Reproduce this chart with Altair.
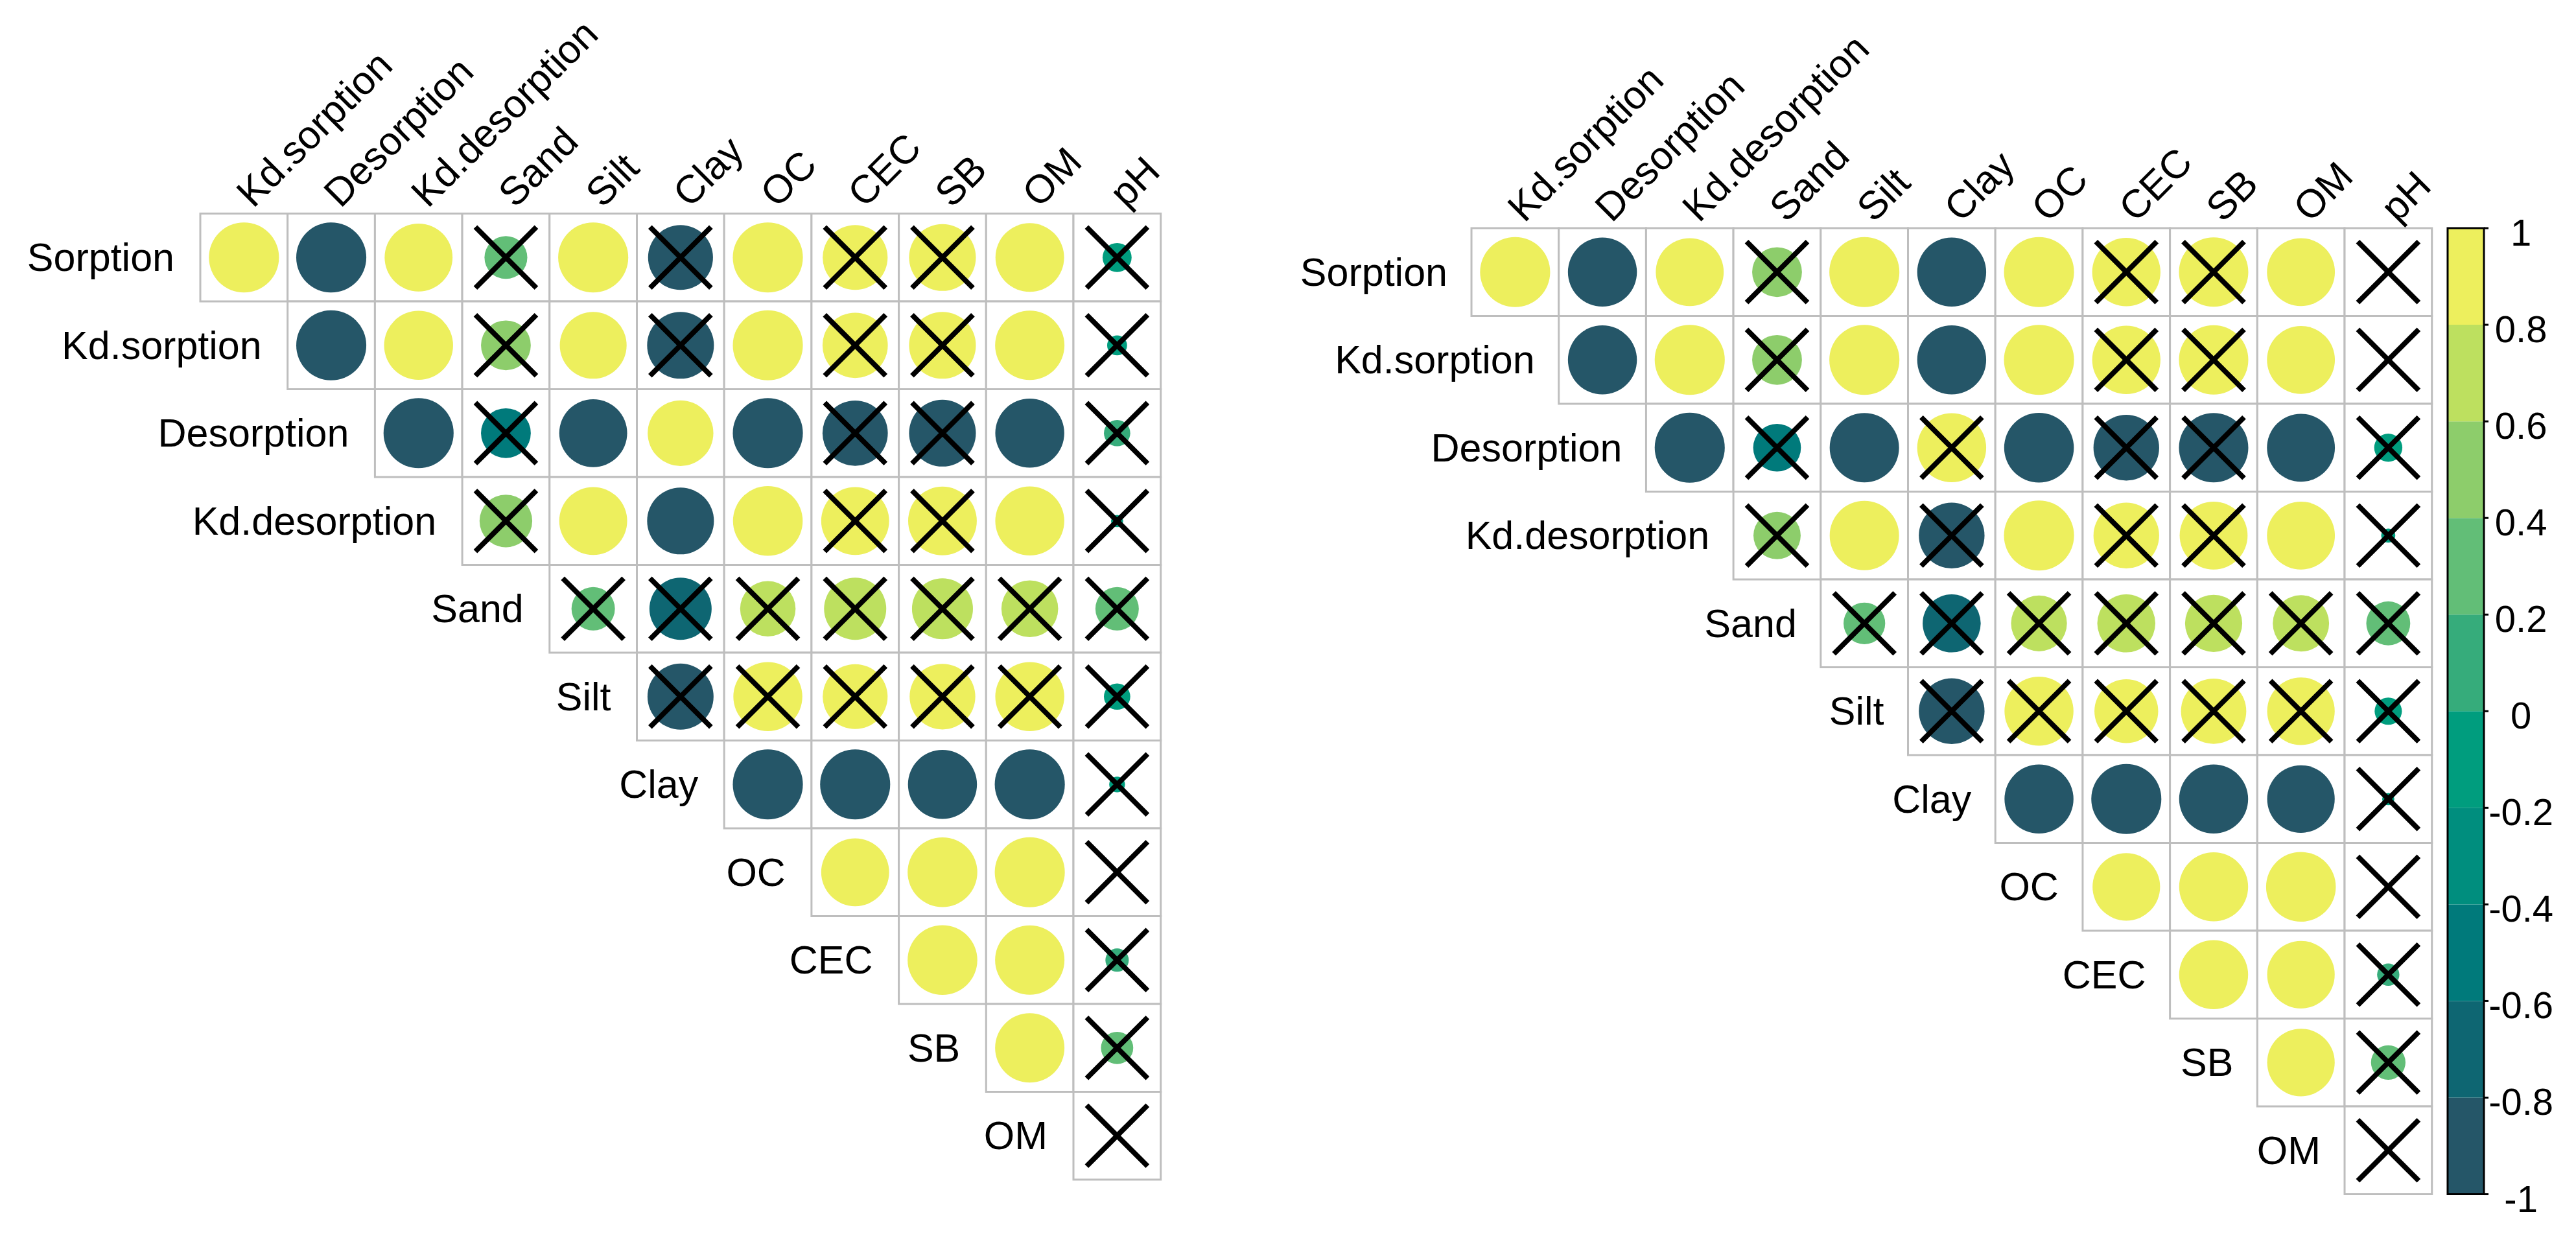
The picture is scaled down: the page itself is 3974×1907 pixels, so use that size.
import altair as alt
import pandas as pd

# ---------------- data ----------------
ROW_VARS = ["Sorption", "Kd.sorption", "Desorption", "Kd.desorption", "Sand",
            "Silt", "Clay", "OC", "CEC", "SB", "OM"]
COL_VARS = ["Kd.sorption", "Desorption", "Kd.desorption", "Sand", "Silt",
            "Clay", "OC", "CEC", "SB", "OM", "pH"]

# upper-triangle correlation values, one list per row (starting at diagonal+1)
LEFT_R = [
    [0.99, -0.99, 0.93, 0.37, 0.99, -0.85, 0.99, 0.85, 0.90, 0.95, -0.17],
    [-0.99, 0.96, 0.50, 0.90, -0.90, 0.99, 0.86, 0.90, 0.97, -0.08],
    [-0.99, -0.50, -0.93, 0.87, -0.99, -0.86, -0.90, -0.96, 0.14],
    [0.56, 0.93, -0.90, 0.98, 0.93, 0.95, 0.96, -0.03],
    [0.38, -0.78, 0.62, 0.78, 0.75, 0.65, 0.38],
    [-0.88, 0.96, 0.85, 0.87, 0.96, -0.14],
    [-0.99, -0.99, -0.96, -0.99, -0.05],
    [0.93, 0.98, 0.99, -0.01],
    [0.98, 0.97, 0.11],
    [0.97, 0.21],
    [0.005],
]
LEFT_SIG = [
    [1, 1, 1, 0, 1, 0, 1, 0, 0, 1, 0],
    [1, 1, 0, 1, 0, 1, 0, 0, 1, 0],
    [1, 0, 1, 1, 1, 0, 0, 1, 0],
    [0, 1, 1, 1, 0, 0, 1, 0],
    [0, 0, 0, 0, 0, 0, 0],
    [0, 0, 0, 0, 0, 0],
    [1, 1, 1, 1, 0],
    [1, 1, 1, 0],
    [1, 1, 0],
    [1, 0],
    [0],
]
RIGHT_R = [
    [0.99, -0.96, 0.93, 0.50, 0.99, -0.96, 0.99, 0.94, 0.97, 0.93, -0.01],
    [-0.96, 0.99, 0.50, 0.99, -0.96, 0.99, 0.94, 0.97, 0.93, -0.01],
    [-0.99, -0.46, -0.97, 0.96, -0.98, -0.87, -0.97, -0.93, -0.16],
    [0.45, 0.97, -0.87, 0.99, 0.87, 0.93, 0.93, -0.04],
    [0.35, -0.68, 0.63, 0.68, 0.66, 0.64, 0.39],
    [-0.87, 0.96, 0.82, 0.86, 0.92, -0.15],
    [-0.96, -0.99, -0.96, -0.92, -0.03],
    [0.92, 0.96, 0.98, 0.005],
    [0.96, 0.92, 0.10],
    [0.92, 0.24],
    [0.005],
]
RIGHT_SIG = [
    [1, 1, 1, 0, 1, 1, 1, 0, 0, 1, 0],
    [1, 1, 0, 1, 1, 1, 0, 0, 1, 0],
    [1, 0, 1, 0, 1, 0, 0, 1, 0],
    [0, 1, 0, 1, 0, 0, 1, 0],
    [0, 0, 0, 0, 0, 0, 0],
    [0, 0, 0, 0, 0, 0],
    [1, 1, 1, 1, 0],
    [1, 1, 1, 0],
    [1, 1, 0],
    [1, 0],
    [0],
]

BIN_EDGES = [-1.0, -0.8, -0.6, -0.4, -0.2, 0.0, 0.2, 0.4, 0.6, 0.8, 1.0]
TICK_VALUES = [1.0, 0.8, 0.6, 0.4, 0.2, 0.0, -0.2, -0.4, -0.6, -0.8, -1.0]
TICK_LABELS = ["1", "0.8", "0.6", "0.4", "0.2", "0", "-0.2", "-0.4", "-0.6", "-0.8", "-1"]
PALETTE = ["#255668", "#0E6672", "#007A7B", "#008E7E", "#009D7E",
           "#36AC7B", "#62BE77", "#8DCD6B", "#BDE05F", "#EDEF5D"]

# ---------------- layout (cell units) ----------------
W, H = 3958, 1891
CELL_X, CELL_Y = 134.7, 135.5
XMAX, YMAX = W / CELL_X, H / CELL_Y
N = len(COL_VARS)
PANELS = [
    # name, values, sig, x-origin, y-origin, row-label gap(px)
    ("left", LEFT_R, LEFT_SIG, 2.2346, 2.373, -40),
    ("right", RIGHT_R, RIGHT_SIG, 16.793, 2.539, -37),
]
FONT = "Liberation Sans, Arial, sans-serif"
LABEL_SIZE = 61
MAX_AREA = 3.14159 * (0.455 * CELL_X) ** 2

xs = alt.Scale(domain=[0, XMAX], nice=False, zero=False)
ys = alt.Scale(domain=[0, YMAX], nice=False, zero=False, reverse=True)
cscale = alt.Scale(type="threshold", domain=BIN_EDGES[1:-1], range=PALETTE)

layers = []
for name, vals, sig, x0, y0, gap in PANELS:
    cells = []
    for i, (rowv, rows) in enumerate(zip(vals, sig)):
        for k, (r, s) in enumerate(zip(rowv, rows)):
            j = i + k
            cells.append(dict(row=ROW_VARS[i], col=COL_VARS[j], r=r, absr=abs(r), sig=s,
                              x1=x0 + j, x2=x0 + j + 1, y1=y0 + i, y2=y0 + i + 1,
                              xc=x0 + j + 0.5, yc=y0 + i + 0.5))
    cdf = pd.DataFrame(cells)
    rlab = pd.DataFrame(dict(text=ROW_VARS, x=[x0 + i for i in range(N)],
                             y=[y0 + i + 0.5 for i in range(N)]))
    clab = pd.DataFrame(dict(text=COL_VARS, x=[x0 + j + 0.5 for j in range(N)],
                             y=[y0] * N))

    grid = alt.Chart(cdf).mark_rect(fill="white", stroke="#BEBEBE", strokeWidth=3).encode(
        x=alt.X("x1:Q", scale=xs, axis=None), x2="x2:Q",
        y=alt.Y("y1:Q", scale=ys, axis=None), y2="y2:Q")
    circ = alt.Chart(cdf).mark_circle(opacity=1, strokeWidth=0).encode(
        x=alt.X("xc:Q", scale=xs, axis=None),
        y=alt.Y("yc:Q", scale=ys, axis=None),
        color=alt.Color("r:Q", scale=cscale, legend=None),
        size=alt.Size("absr:Q", scale=alt.Scale(domain=[0, 1], range=[0, MAX_AREA]), legend=None))
    cross = alt.Chart(cdf).transform_filter("datum.sig == 0").mark_point(
        shape="M-1,-1L1,1M-1,1L1,-1", filled=False, color="black", opacity=1,
        strokeWidth=8, size=94 * 94).encode(
        x=alt.X("xc:Q", scale=xs, axis=None),
        y=alt.Y("yc:Q", scale=ys, axis=None))
    rtext = alt.Chart(rlab).mark_text(align="right", baseline="middle", dx=gap, dy=3,
                                      fontSize=LABEL_SIZE, font=FONT, color="black").encode(
        x=alt.X("x:Q", scale=xs, axis=None), y=alt.Y("y:Q", scale=ys, axis=None), text="text:N")
    ctext = alt.Chart(clab).mark_text(align="left", baseline="alphabetic", angle=315, dx=15, dy=5,
                                      fontSize=LABEL_SIZE, font=FONT, color="black").encode(
        x=alt.X("x:Q", scale=xs, axis=None), y=alt.Y("y:Q", scale=ys, axis=None), text="text:N")
    layers += [grid, circ, cross, rtext, ctext]

# ---------------- colour bar (attached to the right panel) ----------------
_, _, _, rx0, ry0, _ = PANELS[1]
CB_X1, CB_X2 = rx0 + 11.18, rx0 + 11.596
def vy(v):
    return ry0 + (1 - v) / 2 * N

cb = pd.DataFrame(dict(lo=BIN_EDGES[:-1], hi=BIN_EDGES[1:]))
cb["mid"] = (cb.lo + cb.hi) / 2
cb["x1"], cb["x2"] = CB_X1, CB_X2
cb["y1"] = [vy(v) for v in cb.hi]
cb["y2"] = [vy(v) for v in cb.lo]
cbar = alt.Chart(cb).mark_rect(strokeWidth=0).encode(
    x=alt.X("x1:Q", scale=xs, axis=None), x2="x2:Q",
    y=alt.Y("y1:Q", scale=ys, axis=None), y2="y2:Q",
    color=alt.Color("mid:Q", scale=cscale, legend=None))
border = alt.Chart(pd.DataFrame(dict(x1=[CB_X1], x2=[CB_X2], y1=[vy(1)], y2=[vy(-1)]))).mark_rect(
    fillOpacity=0, stroke="black", strokeWidth=3).encode(
    x=alt.X("x1:Q", scale=xs, axis=None), x2="x2:Q",
    y=alt.Y("y1:Q", scale=ys, axis=None), y2="y2:Q")
tk = pd.DataFrame(dict(v=TICK_VALUES, label=TICK_LABELS))
tk["y"] = [vy(v) for v in tk.v]
tk["x1"], tk["x2"] = CB_X2, CB_X2 + 7 / CELL_X
tk["xl"] = rx0 + 12.02
ticks = alt.Chart(tk).mark_rule(color="black", strokeWidth=3).encode(
    x=alt.X("x1:Q", scale=xs, axis=None), x2="x2:Q",
    y=alt.Y("y:Q", scale=ys, axis=None))
tlabels = alt.Chart(tk).mark_text(align="center", baseline="middle", dy=10, fontSize=58,
                                  font=FONT, color="black").encode(
    x=alt.X("xl:Q", scale=xs, axis=None), y=alt.Y("y:Q", scale=ys, axis=None), text="label:N")
layers += [cbar, border, ticks, tlabels]

chart = alt.layer(*layers).properties(
    width=W, height=H, autosize=alt.AutoSizeParams(type="none"), padding=0
).configure_view(stroke=None).resolve_scale(color="shared")

chart.save("out.html", embed_options={"renderer": "svg", "actions": False})
